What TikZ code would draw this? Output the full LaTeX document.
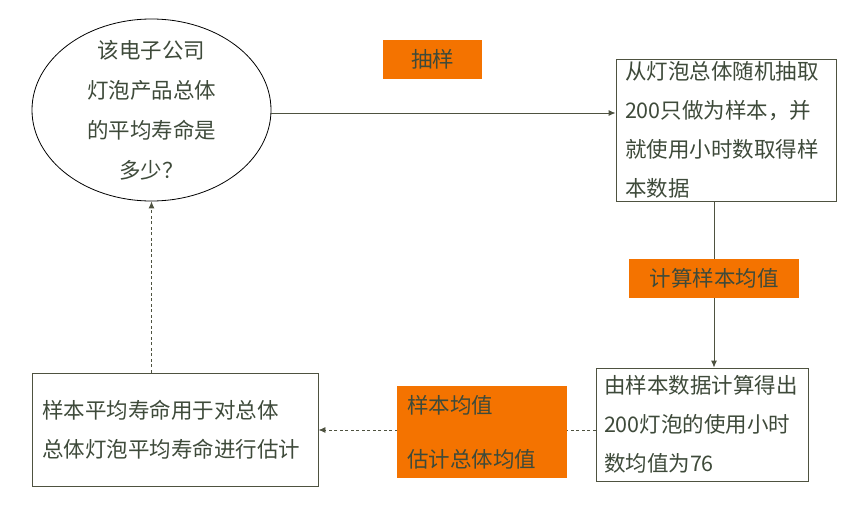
\documentclass[tikz,border=0pt]{standalone}
\usepackage{fontspec}
\setmainfont{Noto Sans CJK SC}
\usetikzlibrary{arrows.meta,positioning,shapes.geometric}
\definecolor{inkgreen}{RGB}{62,74,58}
\definecolor{lineolive}{RGB}{78,82,64}
\definecolor{tagorange}{RGB}{244,115,0}

\begin{document}
\begin{tikzpicture}[x=1pt,y=-1pt,>={Latex[length=7pt,width=6pt]},
  every node/.style={text=inkgreen,font=\fontsize{21.5}{39}\selectfont},
  box/.style={draw=lineolive,line width=0.9pt,inner xsep=9pt,inner ysep=0pt,align=left},
  tag/.style={fill=tagorange,inner sep=0pt},
  flow/.style={->,draw=lineolive,line width=0.9pt},
  guess/.style={flow,dash pattern=on 3pt off 2.5pt}]
  \useasboundingbox (0,0) rectangle (867,514);
  % question and the three boxes
  \node[ellipse,draw=black,line width=0.8pt,minimum width=239,minimum height=182,inner sep=0pt,
    label={[align=center,font=\fontsize{21.5}{40}\selectfont]center:该电子公司\\灯泡产品总体\\的平均寿命是\\多少？}]
    (question) at (151.5,110) {};
  \node[box,text width=202,minimum height=142] (sample) at (726,130)
    {从灯泡总体随机抽取\\200只做为样本，并\\就使用小时数取得样\\本数据};
  \node[box,text width=196,inner xsep=8pt,minimum height=113] (result) at (702,424.5)
    {由样本数据计算得出\\200灯泡的使用小时\\数均值为76};
  \node[box,text width=266,inner xsep=10pt,minimum height=113] (estimate) at (175,429.5)
    {样本平均寿命用于对总体\\总体灯泡平均寿命进行估计};
  % connectors
  \coordinate (toprow) at (0,113);
  \coordinate (downx) at (714,0);
  \coordinate (lowrow) at (0,430);
  \draw[flow] (question.east |- toprow) -- (sample.west |- toprow);
  \draw[flow] (sample.south -| downx) -- (result.north -| downx);
  \draw[guess] (result.west |- lowrow) -- (estimate.east |- lowrow);
  \draw[guess] (estimate.north -| question.south) -- (question.south);
  % orange tags
  \node[tag,minimum width=99,minimum height=39] (drawtag) at (432.5,59.5) {抽样};
  \node[tag,minimum width=170,minimum height=39] (calctag) at (714,278.5) {计算样本均值};
  \node[tag,align=left,text width=150,inner xsep=10pt,minimum height=92,
    font=\fontsize{21.5}{54}\selectfont] (infertag) at (482,432) {样本均值\\估计总体均值};
\end{tikzpicture}
\end{document}
